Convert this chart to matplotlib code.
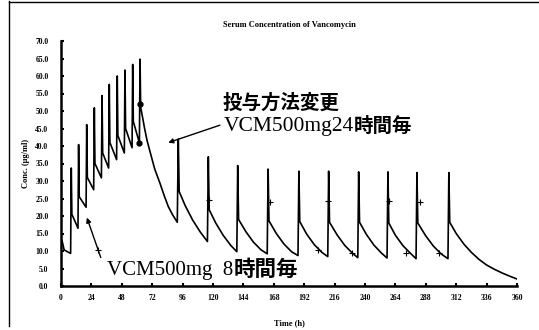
import matplotlib
matplotlib.use('Agg')
import matplotlib.pyplot as plt
from matplotlib.lines import Line2D

# Serum concentration of vancomycin
# 500mg every ~8h at the start, then switched to 500mg every 24h
time_h = [0.8, 2.5, 7.6,
          8.1, 8.6, 13.4,
          13.9, 14.4, 19.8,
          20.3, 20.8, 25.8,
          26.3, 26.8, 31.9,
          32.4, 32.9, 37.6,
          38.1, 38.6, 43.9,
          44.4, 44.9, 50.0,
          50.5, 51.0, 56.1,
          56.6, 57.1, 61.9,
          62.4, 62.9, 64.5, 66.0, 68.0, 70.2, 74.0, 78.1, 81.5, 84.7, 88.0, 91.8,
          92.6, 93.3, 98.0, 104.0, 110.0, 115.6,
          116.3, 117.0, 122.0, 128.0, 134.0, 138.8,
          139.5, 140.2, 146.0, 152.0, 158.0, 162.8,
          163.5, 164.2, 170.0, 176.0, 182.0, 187.1,
          187.8, 188.5, 194.0, 200.0, 206.0, 210.6,
          211.3, 212.0, 218.0, 224.0, 230.0, 234.3,
          235.0, 235.7, 241.0, 247.0, 253.0, 257.4,
          258.1, 258.8, 264.0, 270.0, 276.0, 280.3,
          281.0, 281.7, 288.0, 294.0, 300.0, 305.5,
          306.2, 306.9, 312.0, 318.0, 324.0, 330.0, 336.0, 342.0, 349.0, 355.0, 360.0]
conc = [13.0, 10.3, 9.3,
        33.7, 20.5, 16.5,
        40.4, 25.5, 22.5,
        46.1, 31.0, 27.5,
        50.9, 35.0, 30.9,
        54.4, 38.0, 33.7,
        57.6, 41.0, 36.1,
        60.0, 43.0, 38.0,
        61.7, 45.0, 39.5,
        63.3, 47.0, 40.9,
        64.8, 51.0, 48.0, 45.0, 41.5, 38.5, 33.4, 29.4, 25.8, 22.7, 20.4, 18.2,
        42.0, 27.0, 23.0, 18.8, 15.4, 12.7,
        36.9, 21.8, 18.1, 14.5, 11.6, 9.8,
        34.4, 19.0, 15.5, 12.5, 10.3, 9.2,
        33.4, 18.6, 15.0, 12.0, 9.8, 8.7,
        32.8, 18.4, 14.8, 11.8, 9.6, 8.4,
        32.8, 18.2, 14.6, 11.6, 9.4, 8.1,
        32.6, 18.2, 14.8, 11.7, 9.4, 8.0,
        32.6, 18.0, 14.5, 11.5, 9.3, 7.8,
        32.4, 18.0, 14.3, 11.4, 9.2, 7.8,
        32.4, 18.2, 15.0, 12.0, 9.6, 7.6, 6.0, 4.8, 3.6, 2.7, 2.0]

# measured levels
dot_t = [62.5, 61.5]
dot_c = [52.1, 41.0]
plus_t = [29.0, 116.8, 165.0, 203.0, 211.0, 230.0, 258.9, 272.0, 283.3, 298.6]
plus_c = [10.3, 24.6, 24.0, 10.3, 24.4, 9.5, 24.4, 9.5, 24.0, 9.4]

x_ticks = list(range(0, 361, 24))
y_ticks = [v * 5 for v in range(15)]

fig = plt.figure(figsize=(5.39, 3.30), dpi=100)
ax = fig.add_axes([61 / 539, 1 - 286 / 330, 456 / 539, 245 / 330])

ax.plot(time_h, conc, color='black', lw=1.2)
ax.plot(dot_t, dot_c, 'o', color='black', ms=3.5)
ax.plot(plus_t, plus_c, '+', color='black', ms=5, mew=0.8)

ax.set_xlim(0, 360)
ax.set_ylim(0, 70)
ax.set_xticks(x_ticks)
ax.set_yticks(y_ticks)
ax.set_yticklabels([f"{v:.1f}" for v in y_ticks])
for s in ['top', 'right']:
    ax.spines[s].set_visible(False)
for s in ['left', 'bottom']:
    ax.spines[s].set_linewidth(1.8)
ax.tick_params(direction='in', length=2, width=1.5, pad=9)
for lab in ax.get_xticklabels() + ax.get_yticklabels():
    lab.set_family('Liberation Serif')
    lab.set_weight('bold')
    lab.set_fontsize(5.5)
ax.tick_params(axis='x', pad=6)

ax.set_title("Serum Concentration of Vancomycin", family='Liberation Serif',
             weight='bold', fontsize=6, pad=10)
ax.set_ylabel("Conc. (\u03bcg/ml)", family='Liberation Serif', weight='bold', fontsize=6)
ax.set_xlabel("Time (h)", family='Liberation Serif', weight='bold', fontsize=6, labelpad=12)

cjk = 'Noto Sans CJK JP'

# annotation: change of dosage
ax.text(127.9, 52.2, "投与方法変更", family=cjk, weight='bold', fontsize=14,
        ha='left', va='center')
t1 = ax.text(128.6, 42.8, "VCM500mg24", family='Liberation Serif', fontsize=15.5,
             ha='left', va='bottom')
ax.annotate("時間毎", xy=(1, 0), xycoords=t1, family=cjk, weight='bold',
            fontsize=14, ha='left', va='bottom')
ax.annotate('', xy=(82.6, 40.7), xytext=(127.5, 46.2),
            arrowprops=dict(arrowstyle='-|>', color='black', lw=1, mutation_scale=7))

# annotation: initial dosage
t2 = ax.text(36.5, 1.6, "VCM500mg  8", family='Liberation Serif', fontsize=15,
             ha='left', va='bottom')
ax.annotate("時間毎", xy=(1, 0), xycoords=t2, family=cjk, weight='bold',
            fontsize=15.5, ha='left', va='bottom')
ax.annotate('', xy=(19.7, 20.3), xytext=(32.1, 7.4),
            arrowprops=dict(arrowstyle='-|>', color='black', lw=1, mutation_scale=7))

# scanned page frame
fig.add_artist(Line2D([9 / 539, 9 / 539], [1 - 326 / 330, 1 - 1 / 330],
                      transform=fig.transFigure, color='black', lw=1))
fig.add_artist(Line2D([9 / 539, 1], [1 - 2 / 330, 1 - 2 / 330],
                      transform=fig.transFigure, color='black', lw=1))

fig.savefig("out.png", dpi=100)
plt.close(fig)
